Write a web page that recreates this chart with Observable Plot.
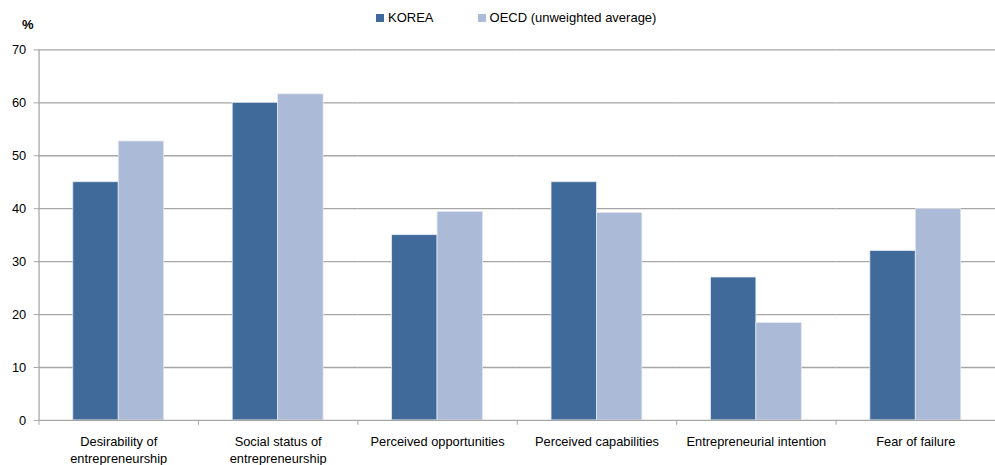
<!DOCTYPE html>
<html>
<head>
<meta charset="utf-8">
<script src="https://cdn.jsdelivr.net/npm/d3@7"></script>
<script src="https://cdn.jsdelivr.net/npm/@observablehq/plot@0.6"></script>
<style>
  html, body { margin: 0; padding: 0; background: #fff; }
  #wrap { position: relative; width: 995px; height: 465px; overflow: hidden; font-family: "Liberation Sans", Arial, sans-serif; font-size: 13px; color: #000; }
  #chart { position: absolute; left: 0; top: 0; }
  .legend { position: absolute; top: 10px; left: 376px; display: flex; align-items: center; }
  .item { display: flex; align-items: center; margin-right: 44px; white-space: nowrap; }
  .sw { width: 8px; height: 8px; margin-right: 4px; }
  .unit { position: absolute; left: 22px; top: 17px; font-weight: bold; font-size: 13px; }
</style>
</head>
<body>
<div id="wrap">
  <div id="chart"></div>
  <div class="unit">%</div>
  <div class="legend" id="legend"></div>
</div>
<script>
const categories = [
  "Desirability of\nentrepreneurship",
  "Social status of\nentrepreneurship",
  "Perceived opportunities",
  "Perceived capabilities",
  "Entrepreneurial intention",
  "Fear of failure"
];
const series = ["KOREA", "OECD (unweighted average)"];
const korea = [45, 60, 35, 45, 27, 32];
const oecd = [52.7, 61.6, 39.4, 39.2, 18.4, 39.9];
const yTicks = [0, 10, 20, 30, 40, 50, 60, 70];
const colors = ["#406a9a", "#abbad7"];

const data = categories.flatMap((c, i) => [
  {category: c, series: series[0], value: korea[i]},
  {category: c, series: series[1], value: oecd[i]}
]);

const W = 1007, ML = 39, MR = 0;
const band = (W - ML - MR) / categories.length;

const chart = Plot.plot({
  width: W,
  height: 465,
  marginTop: 50,
  marginBottom: 40,
  marginLeft: ML,
  marginRight: MR,
  facet: {marginTop: 0, marginBottom: 0, marginLeft: 0, marginRight: 0},
  style: {fontFamily: "'Liberation Sans', Arial, sans-serif", fontSize: "13px", color: "#000", background: "transparent", overflow: "visible"},
  fx: {domain: categories, padding: 0, round: false, label: null},
  x: {domain: series, paddingInner: 0, paddingOuter: 0.754, round: false, axis: null},
  y: {domain: [0, 70], label: null},
  color: {domain: series, range: colors},
  marks: [
    Plot.gridY(yTicks.filter(d => d > 0), {stroke: "#a6a6a6", strokeOpacity: 1, strokeWidth: 1.3}),
    Plot.barY(data, {fx: "category", x: "series", y: "value", fill: "series", stroke: "#e3e8f1", strokeWidth: 0.8}),
    Plot.ruleY([0], {stroke: "#a6a6a6", strokeWidth: 1.3}),
    Plot.frame({anchor: "left", facetAnchor: "left", stroke: "#a6a6a6", strokeWidth: 1.3}),
    Plot.axisY(yTicks, {tickSize: 5, tickPadding: 8, stroke: "#a6a6a6", fill: "#000", label: null}),
    Plot.axisFx({anchor: "bottom", tickSize: 5, tickFormat: () => "", dx: -band / 2, stroke: "#a6a6a6", label: null}),
    Plot.axisFx({anchor: "bottom", tickSize: 0, tickPadding: 13, lineHeight: 1.35, fill: "#000", label: null})
  ]
});
document.getElementById("chart").appendChild(chart);

const legend = document.getElementById("legend");
series.forEach((s, i) => {
  const item = document.createElement("div");
  item.className = "item";
  const sw = document.createElement("div");
  sw.className = "sw";
  sw.style.background = colors[i];
  const t = document.createElement("span");
  t.textContent = s;
  item.appendChild(sw);
  item.appendChild(t);
  legend.appendChild(item);
});
</script>
</body>
</html>
